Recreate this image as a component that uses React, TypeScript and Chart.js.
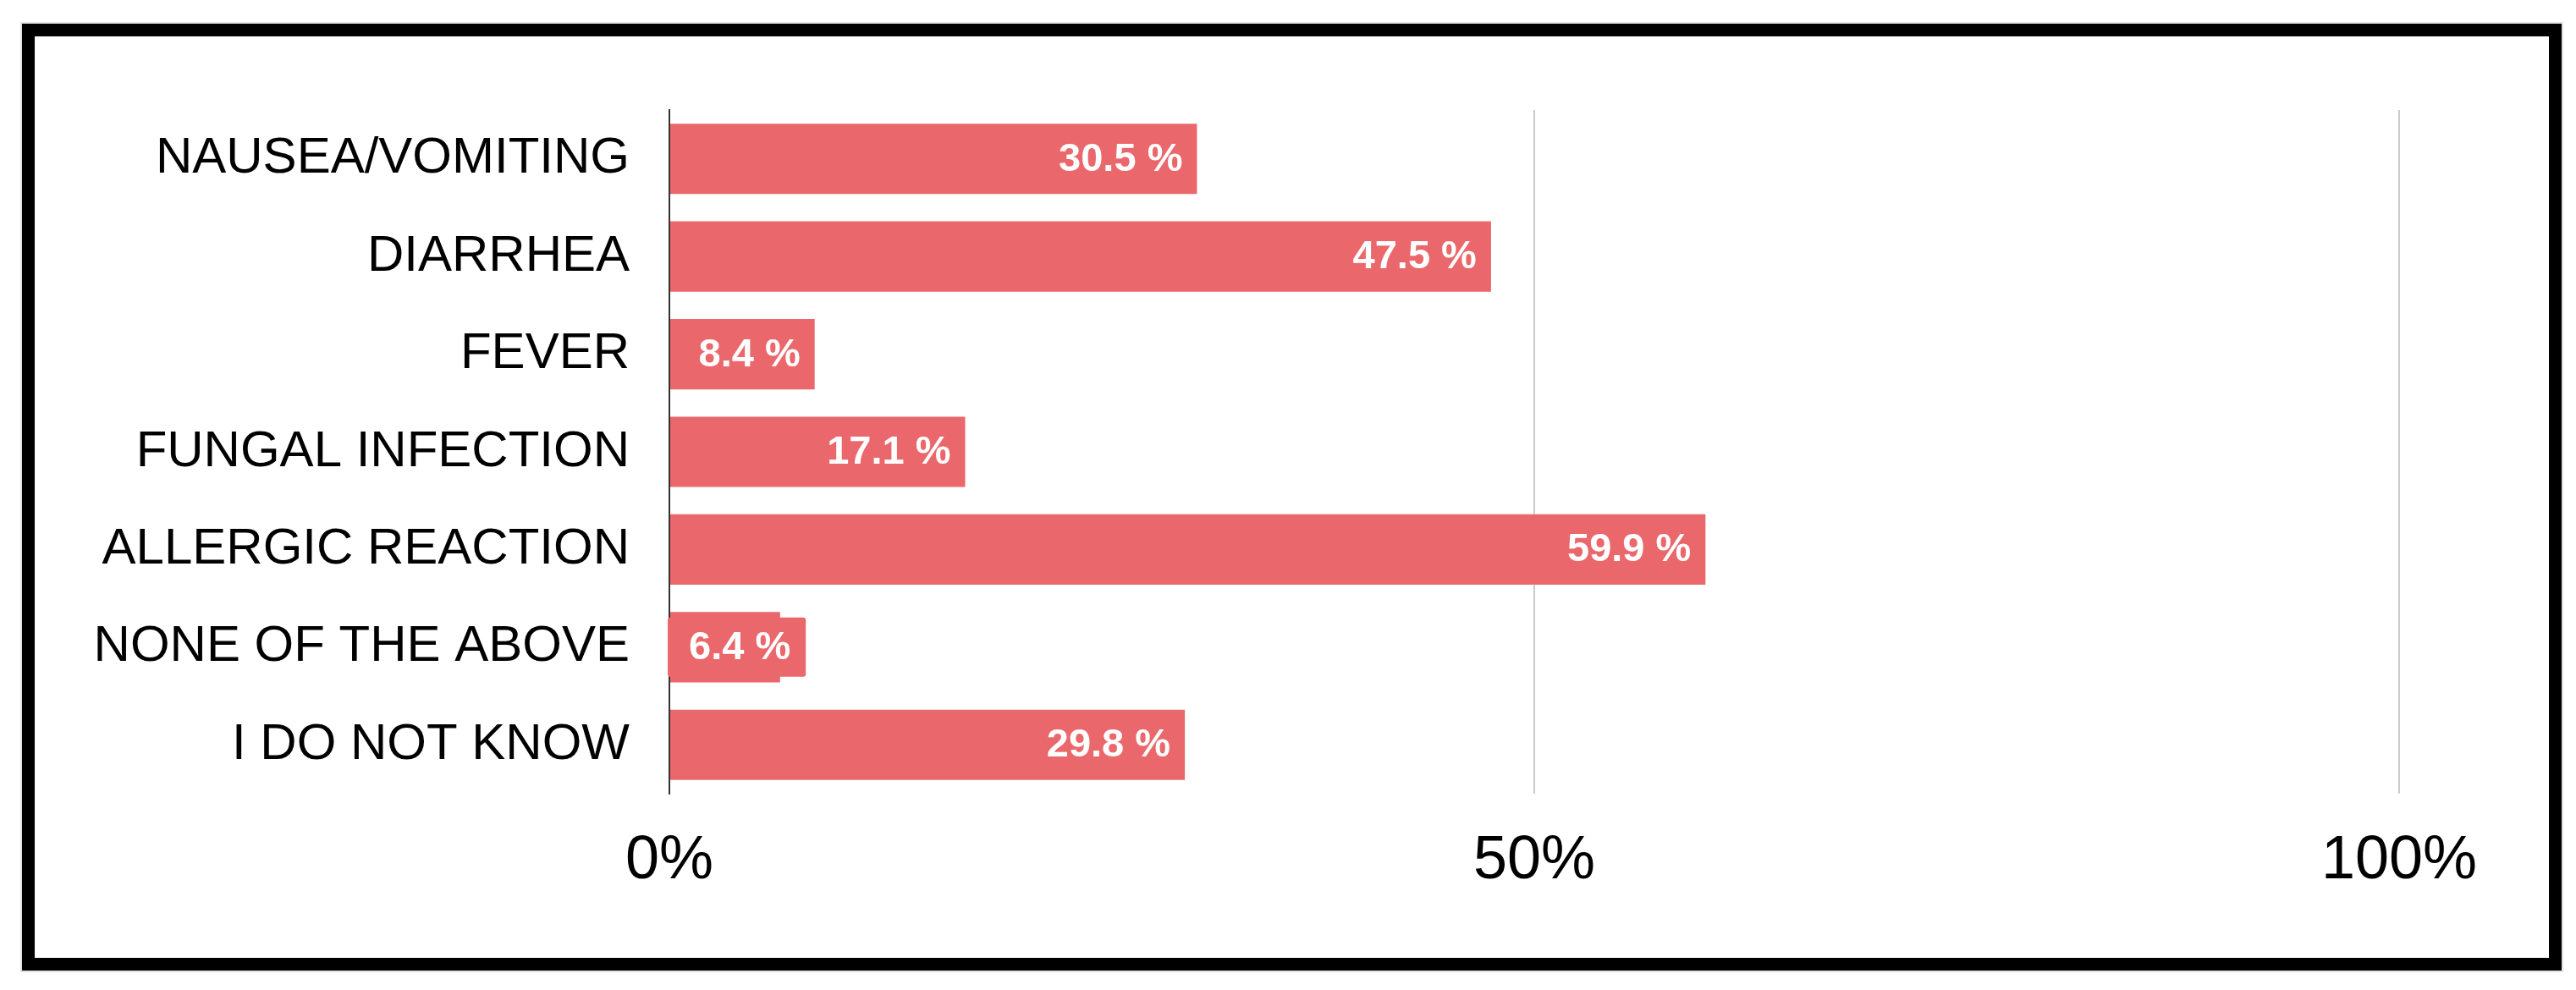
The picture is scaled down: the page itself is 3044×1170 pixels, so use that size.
import React, { useEffect, useRef } from 'react';
import { Chart, registerables } from 'chart.js';

Chart.register(...registerables);

const categories = [
  'NAUSEA/VOMITING',
  'DIARRHEA',
  'FEVER',
  'FUNGAL INFECTION',
  'ALLERGIC REACTION',
  'NONE OF THE ABOVE',
  'I DO NOT KNOW',
];
const values = [30.5, 47.5, 8.4, 17.1, 59.9, 6.4, 29.8];
const xTickValues = [0, 50, 100];

const FONT = "'Liberation Sans', Arial, Helvetica, sans-serif";
const BAR_COLOR = '#EA686C';

const valueLabels = {
  id: 'valueLabels',
  afterDatasetsDraw(chart: any) {
    const ctx = chart.ctx;
    const meta = chart.getDatasetMeta(0);
    ctx.save();
    ctx.font = `bold 47px ${FONT}`;
    ctx.textBaseline = 'middle';
    meta.data.forEach((el: any, i: number) => {
      const text = `${values[i]} %`;
      const w = ctx.measureText(text).width;
      let right = el.x - 17;
      const minLeft = el.base + 22;
      if (right - w < minLeft) {
        right = minLeft + w;
        const bx = right - w - 25;
        const bw = w + 43;
        const bh = 70;
        ctx.fillStyle = BAR_COLOR;
        ctx.beginPath();
        (ctx as any).roundRect(bx, el.y - bh / 2, bw, bh, 3);
        ctx.fill();
      }
      ctx.fillStyle = '#ffffff';
      ctx.textAlign = 'right';
      ctx.fillText(text, right, el.y + 1);
    });
    ctx.restore();
  },
};

export default function App() {
  const ref = useRef<HTMLCanvasElement | null>(null);

  useEffect(() => {
    if (!ref.current) return;
    const chart = new Chart(ref.current, {
      type: 'bar',
      data: {
        labels: categories,
        datasets: [
          {
            data: values,
            backgroundColor: BAR_COLOR,
            borderWidth: 0,
            barPercentage: 0.72,
            categoryPercentage: 1,
          },
        ],
      },
      options: {
        indexAxis: 'y',
        responsive: false,
        animation: false,
        devicePixelRatio: 1,
        layout: { padding: { left: 0, top: 130, right: 209, bottom: 0 } },
        plugins: {
          legend: { display: false },
          tooltip: { enabled: false },
          title: { display: false },
        },
        scales: {
          x: {
            type: 'linear',
            position: 'bottom',
            min: 0,
            max: 100,
            afterBuildTicks: (scale: any) => {
              scale.ticks = xTickValues.map((v) => ({ value: v }));
            },
            afterFit: (scale: any) => {
              scale.height = 232;
            },
            grid: {
              display: true,
              drawTicks: false,
              color: (c: any) => (c.tick && c.tick.value === 0 ? 'rgba(0,0,0,0)' : '#cccccc'),
              lineWidth: 2,
            },
            border: { display: false },
            ticks: {
              padding: 37,
              color: '#000000',
              font: { family: FONT, size: 72 },
              callback: (v: any) => `${v}%`,
            },
          },
          y: {
            type: 'category',
            position: 'left',
            afterFit: (scale: any) => {
              scale.width = 791;
            },
            grid: { display: false, drawTicks: false },
            border: { display: true, color: '#333333', width: 2 },
            ticks: {
              padding: 47,
              color: '#000000',
              font: { family: FONT, size: 60 },
            },
          },
        },
      },
      plugins: [valueLabels],
    });
    return () => chart.destroy();
  }, []);

  return (
    <div style={{ position: 'absolute', left: 0, top: 0, width: 3044, height: 1170, background: '#ffffff' }}>
      <div
        style={{
          position: 'absolute',
          left: 26,
          top: 28,
          width: 3001,
          height: 1119,
          boxSizing: 'border-box',
          border: '15px solid #000000',
          boxShadow: '0 0 0 2px #e2e2e2',
        }}
      />
      <canvas
        ref={ref}
        width={3044}
        height={1170}
        style={{ position: 'absolute', left: 0, top: 0, width: 3044, height: 1170 }}
      />
    </div>
  );
}
